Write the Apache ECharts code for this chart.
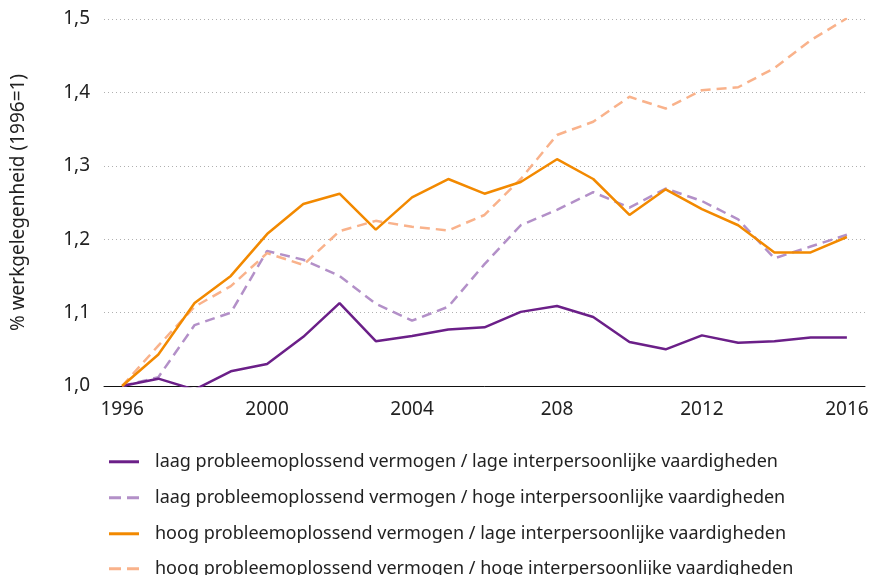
<!DOCTYPE html>
<html>
<head>
    <title>Werkgelegenheid naar vaardigheden</title>
    <script src="https://cdn.jsdelivr.net/npm/echarts@6/dist/echarts.min.js"></script>
    <style>
        html, body { margin: 0; padding: 0; background: #fff; }
        #chart { width: 872px; height: 575px; }
    </style>
</head>
<body>
    <div id="chart"></div>
    <script>
        const years = ['1996', '1997', '1998', '1999', '2000', '2001', '2002', '2003', '2004', '2005', '2006',
            '2007', '2008', '2009', '2010', '2011', '2012', '2013', '2014', '2015', '2016'];
        // labels as printed in the source (incl. "208")
        const yearLabels = { '1996': '1996', '2000': '2000', '2004': '2004', '2008': '208', '2012': '2012', '2016': '2016' };

        const laagLage = [1.000, 1.010, 0.995, 1.020, 1.030, 1.067, 1.113, 1.061, 1.068, 1.077, 1.080,
            1.101, 1.109, 1.094, 1.060, 1.050, 1.069, 1.059, 1.061, 1.066, 1.066];
        const laagHoge = [1.000, 1.012, 1.083, 1.100, 1.184, 1.172, 1.150, 1.112, 1.089, 1.108, 1.166,
            1.219, 1.240, 1.264, 1.243, 1.269, 1.252, 1.227, 1.174, 1.190, 1.206];
        const hoogLage = [1.000, 1.043, 1.113, 1.150, 1.207, 1.248, 1.262, 1.213, 1.257, 1.282, 1.262,
            1.278, 1.309, 1.282, 1.233, 1.268, 1.241, 1.219, 1.182, 1.182, 1.203];
        const hoogHoge = [1.000, 1.055, 1.108, 1.136, 1.181, 1.165, 1.211, 1.225, 1.217, 1.212, 1.233,
            1.282, 1.342, 1.360, 1.394, 1.378, 1.403, 1.407, 1.433, 1.471, 1.501];

        const names = [
            'laag probleemoplossend vermogen / lage interpersoonlijke vaardigheden',
            'laag probleemoplossend vermogen / hoge interpersoonlijke vaardigheden',
            'hoog probleemoplossend vermogen / lage interpersoonlijke vaardigheden',
            'hoog probleemoplossend vermogen / hoge interpersoonlijke vaardigheden'
        ];
        const colors = ['#6b1f88', '#b390c8', '#f28900', '#f9b28b'];
        const dashed = [false, true, false, true];
        const values = [laagLage, laagHoge, hoogLage, hoogHoge];

        const font = '"Noto Sans", sans-serif';
        const dashIcon = 'path://M0,0 L12,0 L12,3 L0,3 Z M18,0 L30,0 L30,3 L18,3 Z';

        const chart = echarts.init(document.getElementById('chart'));

        // one legend per row, so nothing wraps into a second column
        const legendRows = [458, 494, 530, 565];
        const legends = names.map((n, i) => ({
            orient: 'vertical',
            left: 109,
            top: legendRows[i] - 11,
            padding: 0,
            itemWidth: 30,
            itemHeight: 3,
            textStyle: { fontFamily: font, fontSize: 18, lineHeight: 22, color: '#222', padding: [0, 0, 0, 11] },
            data: [{ name: n, icon: dashed[i] ? dashIcon : 'rect' }]
        }));

        chart.setOption({
            animation: false,
            grid: { left: 104, right: 7, top: 19, bottom: 189, outerBoundsMode: 'none', containLabel: false },
            legend: legends,
            xAxis: {
                type: 'category',
                data: years,
                boundaryGap: true,
                axisLine: { lineStyle: { color: '#111', width: 1 } },
                axisTick: { show: false },
                axisLabel: {
                    interval: 0,
                    fontFamily: font,
                    fontSize: 19,
                    color: '#222',
                    margin: 8,
                    formatter: v => yearLabels[v] || ''
                }
            },
            yAxis: {
                type: 'value',
                min: 1.0,
                max: 1.5,
                interval: 0.1,
                name: '% werkgelegenheid (1996=1)',
                nameLocation: 'middle',
                nameGap: 70,
                nameMoveOverlap: false,
                nameTextStyle: { fontFamily: font, fontSize: 19, color: '#222' },
                axisLine: { show: false },
                axisTick: { show: false },
                axisLabel: {
                    fontFamily: font,
                    fontSize: 19,
                    color: '#222',
                    margin: 14,
                    formatter: v => v.toFixed(1).replace('.', ',')
                },
                splitLine: {
                    lineStyle: { color: '#b0b0b0', type: [1, 3], width: 1 }
                }
            },
            series: values.map((d, i) => ({
                name: names[i],
                type: 'line',
                data: d,
                symbol: 'none',
                z: [2, 1, 4, 3][i],
                itemStyle: { color: colors[i] },
                lineStyle: {
                    color: colors[i],
                    width: 2.5,
                    type: dashed[i] ? [10, 6] : 'solid'
                }
            }))
        });
    </script>
</body>
</html>
